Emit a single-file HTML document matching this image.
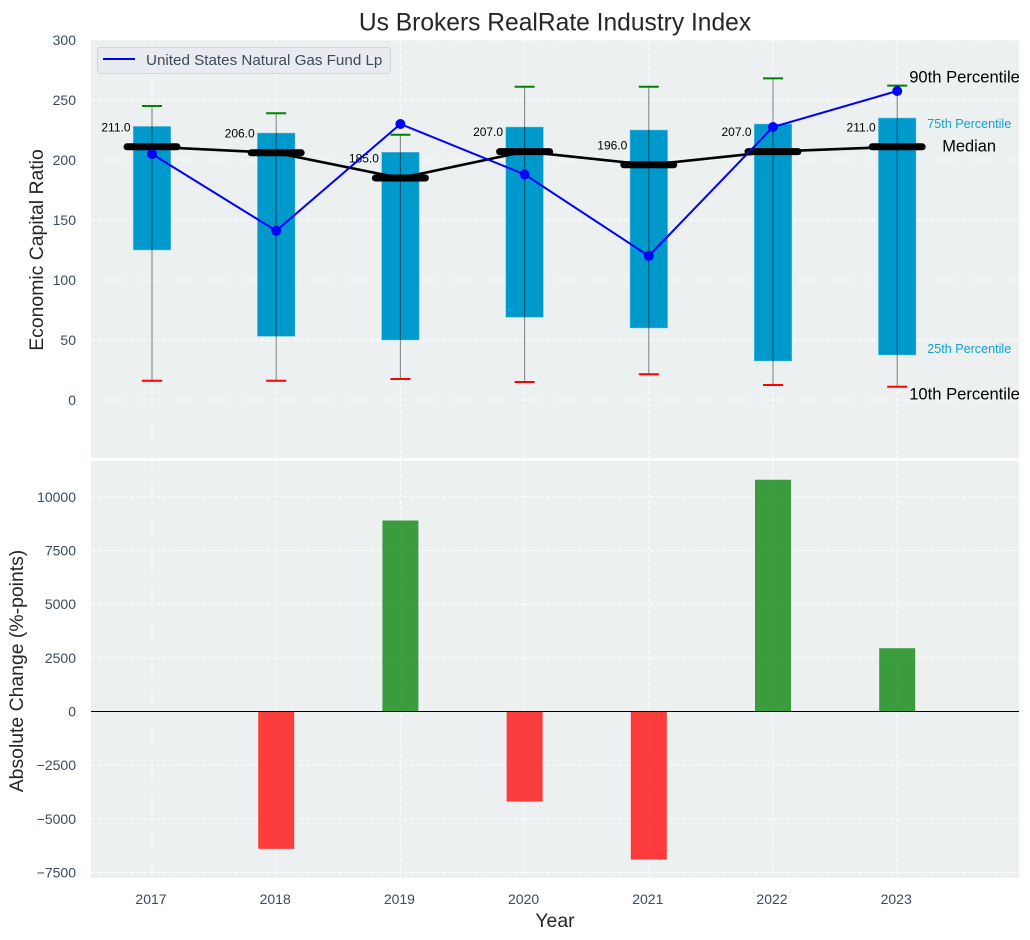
<!DOCTYPE html>
<html>
<head>
<meta charset="utf-8">
<title>Us Brokers RealRate Industry Index</title>
<style>
html,body{margin:0;padding:0;background:#fff;width:1030px;height:940px;overflow:hidden}
svg{display:block;font-family:"Liberation Sans",Arial,sans-serif}
</style>
</head>
<body>
<svg id="chart" width="1030" height="940" viewBox="0 0 1030 940" xmlns="http://www.w3.org/2000/svg"></svg>
<script>
const years = [2017, 2018, 2019, 2020, 2021, 2022, 2023];
const p90 = [245, 239, 221, 261, 261, 268, 262];
const p75 = [228, 222.5, 206.5, 227.5, 225, 230, 235];
const medians = [211, 206, 185, 207, 196, 207, 211];
const p25 = [125, 53, 50, 69, 60, 32.5, 37.5];
const p10 = [16, 16, 17.5, 15, 21.5, 12.5, 11];
const fund = [205, 141, 230, 188, 120, 227.5, 257.5];
const changes = [0, -6400, 8900, -4200, -6900, 10800, 2950];
const topTicks = [0, 50, 100, 150, 200, 250, 300];
const bottomTicks = [-7500, -5000, -2500, 0, 2500, 5000, 7500, 10000];

const NS = 'http://www.w3.org/2000/svg';
const svg = document.getElementById('chart');
const L = 91, R = 1019, T1 = 40, B1 = 458, T2 = 461, B2 = 878;
const INK = '#3b4a5c';
const x = i => 152 + i * 124.2;
const y1 = v => 400 - v * 1.2;
const y2 = v => 711.5 - v * 0.02146;

function mk(tag, props, text) {
  const el = document.createElementNS(NS, tag);
  for (const k in props) el.setAttribute(k, props[k]);
  if (text !== undefined) el.textContent = text;
  svg.appendChild(el);
  return el;
}
function label(name, props, text) {
  const el = mk('text', props, text);
  
  
  return el;
}
function shape(name, tag, props) {
  const el = mk(tag, props);
  
  
  return el;
}

shape('top-panel-background', 'rect', {x: L, y: T1, width: R - L, height: B1 - T1, fill: '#ecf0f1'});
shape('bottom-panel-background', 'rect', {x: L, y: T2, width: R - L, height: B2 - T2, fill: '#ecf0f1'});

const dash = {stroke: '#ffffff', 'stroke-width': 1, 'stroke-dasharray': '4 2.5', fill: 'none'};
years.forEach((yr, i) => {
  shape('x-grid-top-' + yr, 'line', {x1: x(i), x2: x(i), y1: T1, y2: B1, ...dash});
  shape('x-grid-bottom-' + yr, 'line', {x1: x(i), x2: x(i), y1: T2, y2: B2, ...dash});
  label('x-tick-' + yr, {x: x(i) - 1, y: 904, 'font-size': 14, fill: INK, 'text-anchor': 'middle'}, yr);
});
topTicks.forEach(v => {
  shape('y-grid-top-' + v, 'line', {x1: L, x2: R, y1: y1(v), y2: y1(v), ...dash});
  label('y-tick-top-' + v, {x: 76, y: y1(v) + 5, 'font-size': 14, fill: INK, 'text-anchor': 'end'}, v);
});
bottomTicks.forEach(v => {
  shape('y-grid-bottom-' + v, 'line', {x1: L, x2: R, y1: y2(v), y2: y2(v), ...dash});
  label('y-tick-bottom-' + v, {x: 76, y: y2(v) + 5, 'font-size': 14, fill: INK, 'text-anchor': 'end'}, String(v).replace('-', '\u2212'));
});

years.forEach((yr, i) => {
  shape('box-' + yr, 'rect', {x: x(i) - 18.8, y: y1(p75[i]), width: 37.6, height: y1(p25[i]) - y1(p75[i]), fill: '#0099cc', stroke: '#7cc6e2', 'stroke-width': 0.5});
  shape('whisker-' + yr, 'line', {x1: x(i), x2: x(i), y1: y1(p90[i]), y2: y1(p10[i]), stroke: '#000', 'stroke-opacity': 0.45, 'stroke-width': 1.1});
  shape('cap-90th-' + yr, 'line', {x1: x(i) - 10, x2: x(i) + 10, y1: y1(p90[i]), y2: y1(p90[i]), stroke: '#008000', 'stroke-width': 2});
  shape('cap-10th-' + yr, 'line', {x1: x(i) - 10, x2: x(i) + 10, y1: y1(p10[i]), y2: y1(p10[i]), stroke: '#ff0000', 'stroke-width': 2});
});

shape('median-trend-line', 'polyline', {points: medians.map((v, i) => x(i) + ',' + y1(v)).join(' '), fill: 'none', stroke: '#000', 'stroke-width': 2.6});
years.forEach((yr, i) => {
  shape('median-bar-' + yr, 'line', {x1: x(i) - 25, x2: x(i) + 25, y1: y1(medians[i]), y2: y1(medians[i]), stroke: '#000', 'stroke-width': 7, 'stroke-linecap': 'round'});
  label('median-value-' + yr, {x: x(i) - 21.5, y: y1(medians[i]) - 15.5, 'font-size': 12, fill: '#000', 'text-anchor': 'end'}, medians[i].toFixed(1));
});

shape('fund-line', 'polyline', {points: fund.map((v, i) => x(i) + ',' + y1(v)).join(' '), fill: 'none', stroke: '#0000ff', 'stroke-width': 2});
years.forEach((yr, i) => {
  shape('fund-point-' + yr, 'circle', {cx: x(i), cy: y1(fund[i]), r: 5, fill: '#0000ff'});
});

const last = years.length - 1;
label('label-90th-percentile', {x: x(last) + 12, y: y1(p90[last]) - 3, 'font-size': 16.6, fill: '#000'}, '90th Percentile');
label('label-75th-percentile', {x: x(last) + 30, y: y1(p75[last]) + 10, 'font-size': 12.6, fill: '#0f9fd0'}, '75th Percentile');
label('label-median', {x: x(last) + 45, y: y1(medians[last]) + 4.5, 'font-size': 16.4, fill: '#000'}, 'Median');
label('label-25th-percentile', {x: x(last) + 30, y: y1(p25[last]) - 2, 'font-size': 12.6, fill: '#0f9fd0'}, '25th Percentile');
label('label-10th-percentile', {x: x(last) + 12, y: y1(p10[last]) + 12.5, 'font-size': 16.6, fill: '#000'}, '10th Percentile');

years.forEach((yr, i) => {
  const v = changes[i];
  if (v === 0) return;
  shape('change-bar-' + yr, 'rect', {x: x(i) - 18, y: Math.min(y2(v), y2(0)), width: 36, height: Math.abs(y2(v) - y2(0)), fill: v > 0 ? '#008000' : '#ff0000', 'fill-opacity': 0.75});
});
shape('zero-line', 'line', {x1: L, x2: R, y1: y2(0), y2: y2(0), stroke: '#000', 'stroke-width': 1});

shape('legend-box', 'rect', {x: 97.5, y: 47.5, width: 293, height: 26, rx: 3, fill: '#e9ebf0', stroke: '#d3d6da', 'stroke-width': 1});
shape('legend-line', 'line', {x1: 103, x2: 135, y1: 59, y2: 59, stroke: '#0000ff', 'stroke-width': 2});
label('legend-label', {x: 146, y: 65, 'font-size': 15.2, fill: INK}, 'United States Natural Gas Fund Lp');

label('chart-title', {x: 555, y: 30.5, 'font-size': 24.6, fill: '#262626', 'text-anchor': 'middle'}, 'Us Brokers RealRate Industry Index');
label('x-axis-title', {x: 555, y: 927, 'font-size': 19.4, fill: '#262626', 'text-anchor': 'middle'}, 'Year');
label('y-axis-title-top', {x: 43, y: 250, 'font-size': 19.4, fill: '#262626', 'text-anchor': 'middle', transform: 'rotate(-90 43 250)'}, 'Economic Capital Ratio');
label('y-axis-title-bottom', {x: 23, y: 671, 'font-size': 19.4, fill: '#262626', 'text-anchor': 'middle', transform: 'rotate(-90 23 671)'}, 'Absolute Change (%-points)');
</script>
</body>
</html>
